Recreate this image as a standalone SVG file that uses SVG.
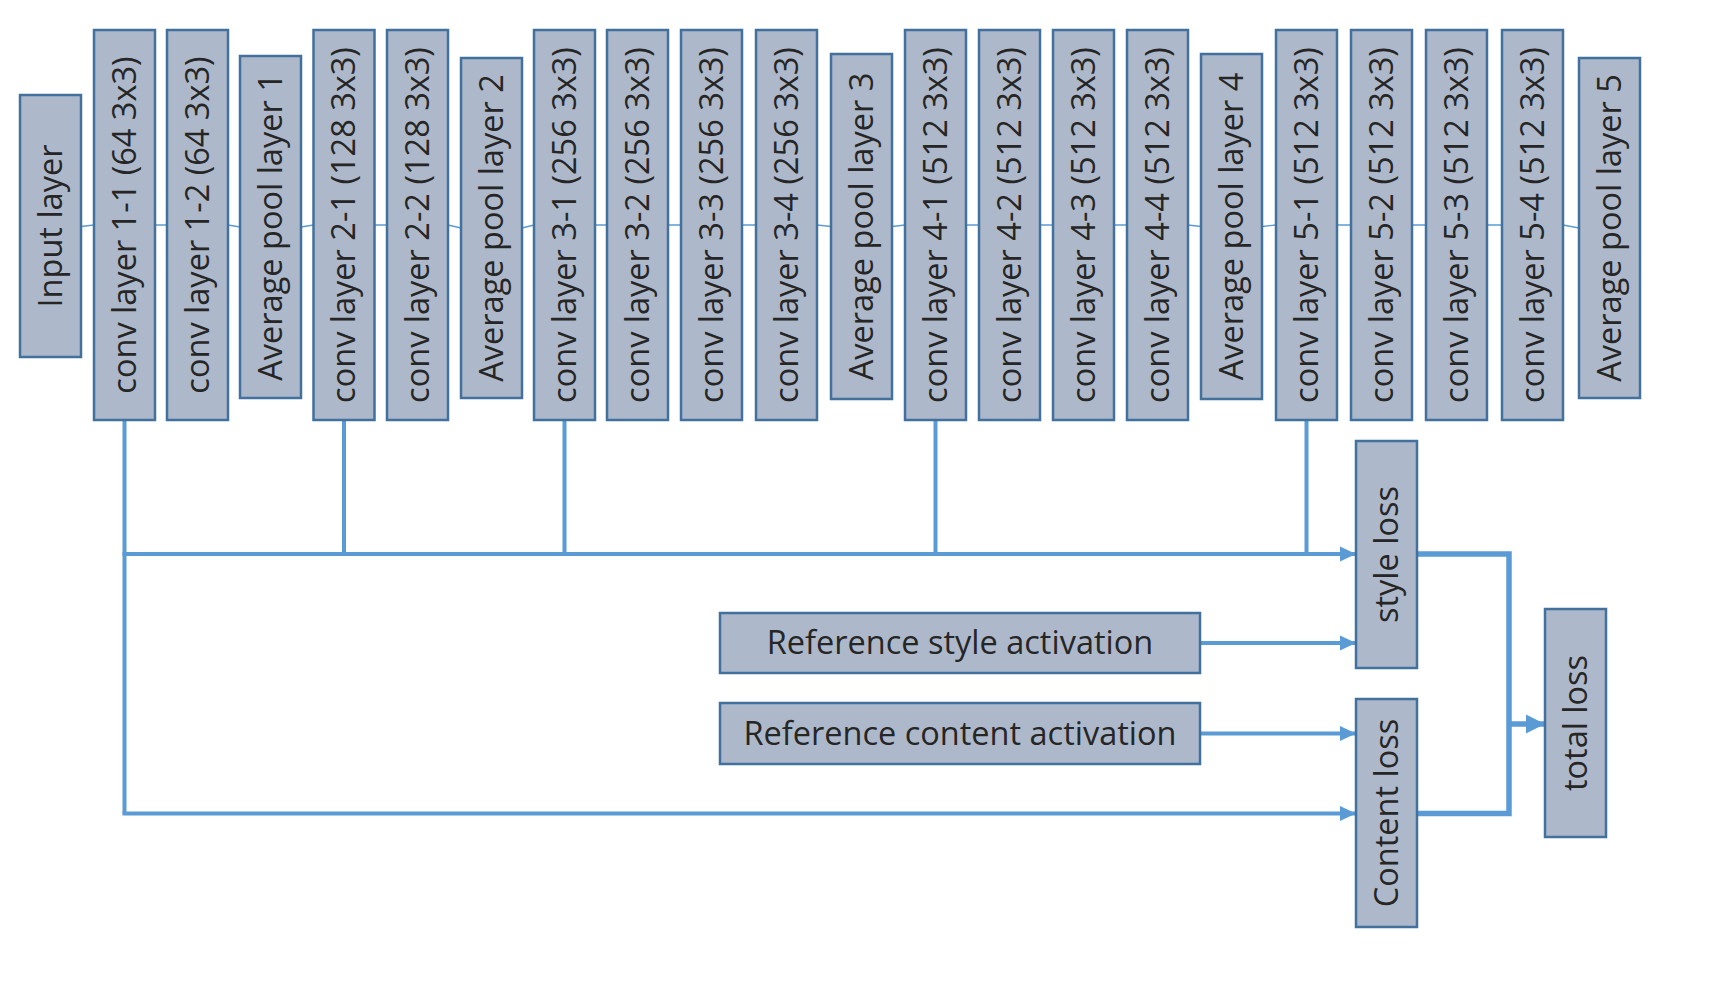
<svg xmlns="http://www.w3.org/2000/svg" width="1721" height="991" viewBox="0 0 1721 991">
<style>
.box{fill:#adb9ca;stroke:#41719c;stroke-width:2.5}
.t{font-family:"Open Sans","Noto Sans","DejaVu Sans",sans-serif;font-size:32.5px;fill:#262626;text-anchor:middle}
.thin{stroke:#5b9bd5;stroke-width:1.3;fill:none}
.ln{stroke:#5b9bd5;stroke-width:4;fill:none}
.lnb{stroke:#5b9bd5;stroke-width:5.5;fill:none}
</style>
<defs>
<marker id="ah" markerUnits="userSpaceOnUse" markerWidth="18" markerHeight="18" refX="16" refY="8.5" orient="auto">
<path d="M0,1 L16,8.5 L0,16 Z" fill="#5b9bd5"/>
</marker>
<marker id="ahb" markerUnits="userSpaceOnUse" markerWidth="22" markerHeight="22" refX="19" refY="10.5" orient="auto">
<path d="M0,1 L19,10.5 L0,20 Z" fill="#5b9bd5"/>
</marker>
</defs>
<g id="connectors">
<path class="thin" d="M81,226.5 L94,225 M155,225 L167,225 M228,225 L240,227 M301,227 L313.5,225 M374.5,225 L387,225 M448,225 L461,228 M522,228 L534,225 M595,225 L607,225 M668,225 L681,225 M742,225 L756,225 M817,225 L831,226.5 M892,226.5 L905,225 M966,225 L979,225 M1040,225 L1053,225 M1114,225 L1127,225 M1188,225 L1201,226.5 M1262,226.5 L1276,225 M1337,225 L1351,225 M1412,225 L1426,225 M1487,225 L1502,225 M1563,225 L1579,228"/>
<path class="ln" d="M124.5,420 L124.5,813.5"/>
<path class="ln" d="M344,420 L344,554 M564.5,420 L564.5,554 M935.5,420 L935.5,554 M1306.5,420 L1306.5,554"/>
<path class="ln" d="M122.5,554 L1356,554" marker-end="url(#ah)"/>
<path class="ln" d="M122.5,813.5 L1356,813.5" marker-end="url(#ah)"/>
<path class="ln" d="M1200,643 L1356,643" marker-end="url(#ah)"/>
<path class="ln" d="M1200,733.5 L1356,733.5" marker-end="url(#ah)"/>
<path class="lnb" d="M1417,554 L1509,554 L1509,813.5 L1417,813.5"/>
<path class="lnb" d="M1509,724 L1545,724" marker-end="url(#ahb)"/>
</g>
<g id="input"><rect class="box" x="20" y="95" width="61" height="262"/><text class="t" transform="translate(50.5,226) rotate(-90)" dy="0.35em">Input layer</text></g>
<g id="conv1_1"><rect class="box" x="94" y="30" width="61" height="390"/><text class="t" transform="translate(124.5,225) rotate(-90)" dy="0.35em">conv layer 1-1 (64 3x3)</text></g>
<g id="conv1_2"><rect class="box" x="167" y="30" width="61" height="390"/><text class="t" transform="translate(197.5,225) rotate(-90)" dy="0.35em">conv layer 1-2 (64 3x3)</text></g>
<g id="pool1"><rect class="box" x="240" y="56" width="61" height="342"/><text class="t" transform="translate(270.5,227) rotate(-90)" dy="0.35em">Average pool layer 1</text></g>
<g id="conv2_1"><rect class="box" x="313.5" y="30" width="61" height="390"/><text class="t" transform="translate(344,225) rotate(-90)" dy="0.35em">conv layer 2-1 (128 3x3)</text></g>
<g id="conv2_2"><rect class="box" x="387" y="30" width="61" height="390"/><text class="t" transform="translate(417.5,225) rotate(-90)" dy="0.35em">conv layer 2-2 (128 3x3)</text></g>
<g id="pool2"><rect class="box" x="461" y="58" width="61" height="340"/><text class="t" transform="translate(491.5,228) rotate(-90)" dy="0.35em">Average pool layer 2</text></g>
<g id="conv3_1"><rect class="box" x="534" y="30" width="61" height="390"/><text class="t" transform="translate(564.5,225) rotate(-90)" dy="0.35em">conv layer 3-1 (256 3x3)</text></g>
<g id="conv3_2"><rect class="box" x="607" y="30" width="61" height="390"/><text class="t" transform="translate(637.5,225) rotate(-90)" dy="0.35em">conv layer 3-2 (256 3x3)</text></g>
<g id="conv3_3"><rect class="box" x="681" y="30" width="61" height="390"/><text class="t" transform="translate(711.5,225) rotate(-90)" dy="0.35em">conv layer 3-3 (256 3x3)</text></g>
<g id="conv3_4"><rect class="box" x="756" y="30" width="61" height="390"/><text class="t" transform="translate(786.5,225) rotate(-90)" dy="0.35em">conv layer 3-4 (256 3x3)</text></g>
<g id="pool3"><rect class="box" x="831" y="54" width="61" height="345"/><text class="t" transform="translate(861.5,226.5) rotate(-90)" dy="0.35em">Average pool layer 3</text></g>
<g id="conv4_1"><rect class="box" x="905" y="30" width="61" height="390"/><text class="t" transform="translate(935.5,225) rotate(-90)" dy="0.35em">conv layer 4-1 (512 3x3)</text></g>
<g id="conv4_2"><rect class="box" x="979" y="30" width="61" height="390"/><text class="t" transform="translate(1009.5,225) rotate(-90)" dy="0.35em">conv layer 4-2 (512 3x3)</text></g>
<g id="conv4_3"><rect class="box" x="1053" y="30" width="61" height="390"/><text class="t" transform="translate(1083.5,225) rotate(-90)" dy="0.35em">conv layer 4-3 (512 3x3)</text></g>
<g id="conv4_4"><rect class="box" x="1127" y="30" width="61" height="390"/><text class="t" transform="translate(1157.5,225) rotate(-90)" dy="0.35em">conv layer 4-4 (512 3x3)</text></g>
<g id="pool4"><rect class="box" x="1201" y="54" width="61" height="345"/><text class="t" transform="translate(1231.5,226.5) rotate(-90)" dy="0.35em">Average pool layer 4</text></g>
<g id="conv5_1"><rect class="box" x="1276" y="30" width="61" height="390"/><text class="t" transform="translate(1306.5,225) rotate(-90)" dy="0.35em">conv layer 5-1 (512 3x3)</text></g>
<g id="conv5_2"><rect class="box" x="1351" y="30" width="61" height="390"/><text class="t" transform="translate(1381.5,225) rotate(-90)" dy="0.35em">conv layer 5-2 (512 3x3)</text></g>
<g id="conv5_3"><rect class="box" x="1426" y="30" width="61" height="390"/><text class="t" transform="translate(1456.5,225) rotate(-90)" dy="0.35em">conv layer 5-3 (512 3x3)</text></g>
<g id="conv5_4"><rect class="box" x="1502" y="30" width="61" height="390"/><text class="t" transform="translate(1532.5,225) rotate(-90)" dy="0.35em">conv layer 5-4 (512 3x3)</text></g>
<g id="pool5"><rect class="box" x="1579" y="58" width="61" height="340"/><text class="t" transform="translate(1609.5,228) rotate(-90)" dy="0.35em">Average pool layer 5</text></g>
<g id="style_loss"><rect class="box" x="1356" y="441" width="61" height="227"/><text class="t" transform="translate(1386.5,554.5) rotate(-90)" dy="0.35em">style loss</text></g>
<g id="content_loss"><rect class="box" x="1356" y="699" width="61" height="228"/><text class="t" transform="translate(1386.5,813) rotate(-90)" dy="0.35em">Content loss</text></g>
<g id="total_loss"><rect class="box" x="1545" y="609" width="61" height="228"/><text class="t" transform="translate(1575.5,723) rotate(-90)" dy="0.35em">total loss</text></g>
<g id="ref_style"><rect class="box" x="720" y="613" width="480" height="60"/><text class="t" x="960" y="643" dy="0.35em">Reference style activation</text></g>
<g id="ref_content"><rect class="box" x="720" y="703" width="480" height="61"/><text class="t" x="960" y="733.5" dy="0.35em">Reference content activation</text></g>
</svg>
